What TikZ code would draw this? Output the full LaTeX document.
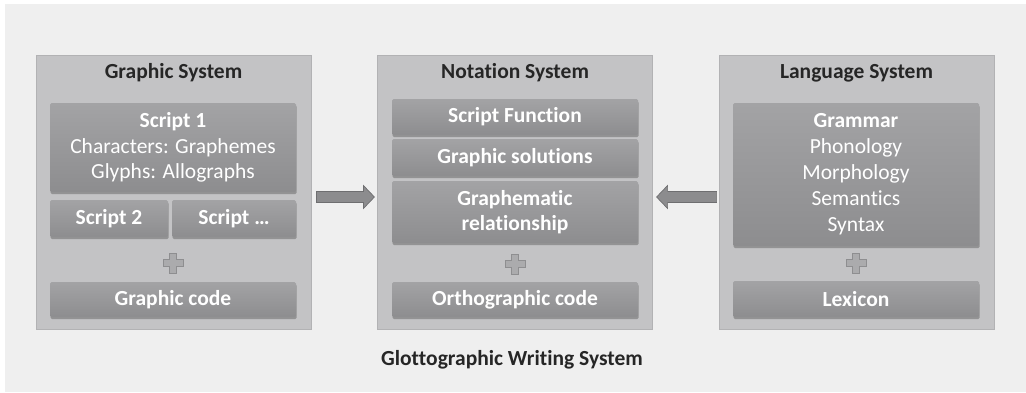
\documentclass[tikz,border=0pt]{standalone}
\usepackage{fontspec}
\setmainfont[Ligatures={NoCommon}]{Carlito}
\usetikzlibrary{shadows,calc}
\definecolor{bgc}{HTML}{EFEFEF}
\definecolor{panelc}{HTML}{C3C3C5}
\definecolor{panelb}{HTML}{B2B2B4}
\definecolor{boxtop}{HTML}{A3A3A5}
\definecolor{boxbot}{HTML}{8D8D8F}
\definecolor{titlec}{HTML}{262626}
\definecolor{plusf}{HTML}{ABABAD}
\definecolor{pluss}{HTML}{8E8E90}
\definecolor{arrf}{HTML}{8C8C8E}
\definecolor{arrs}{HTML}{6E6E70}
\tikzset{
  panel/.style={draw=panelb, fill=panelc, line width=0.8pt, minimum width=275pt, minimum height=274pt, inner sep=0pt},
  title/.style={font=\fontsize{21.5}{25}\selectfont\bfseries, text=titlec, inner sep=0pt},
  inbox/.style={top color=boxtop, bottom color=boxbot, draw=none, rounded corners=1.5pt,
     text=white, align=center, inner sep=0pt, minimum width=246pt,
     font=\fontsize{21.5}{25.5}\selectfont,
     drop shadow={shadow xshift=0.6pt, shadow yshift=-2.2pt, opacity=0.4, fill=black!70}},
  boldbox/.style={inbox, font=\fontsize{21.5}{25}\selectfont\bfseries},
  plussign/.style={fill=plusf, draw=pluss, line width=0.7pt},
  blockarrow/.style={fill=arrf, draw=arrs, line width=0.7pt},
  bottomtitle/.style={font=\fontsize{21.5}{25}\selectfont\bfseries, text=titlec, inner sep=0pt}
}
\newcommand{\plusat}[2]{%
  \draw[plussign] (#1-10,#2-3.5) -- (#1-3.5,#2-3.5) -- (#1-3.5,#2-10) -- (#1+3.5,#2-10) -- (#1+3.5,#2-3.5)
   -- (#1+10,#2-3.5) -- (#1+10,#2+3.5) -- (#1+3.5,#2+3.5) -- (#1+3.5,#2+10) -- (#1-3.5,#2+10)
   -- (#1-3.5,#2+3.5) -- (#1-10,#2+3.5) -- cycle;}
\begin{document}
\begin{tikzpicture}[x=1pt,y=-1pt]
\fill[white] (0,0) rectangle (1026,392);
\fill[bgc] (5,4) rectangle (1026,392);
\useasboundingbox (0,0) rectangle (1026,392);

% panels
\node[panel] (p1) at (173.5,192) {};
\node[panel] (p2) at (515,192) {};
\node[panel] (p3) at (856.5,192) {};

\node[title] (t1) at (173.5,73) {Graphic System};
\node[title] (t2) at (515,73) {Notation System};
\node[title] (t3) at (856.5,73) {Language System};

% panel 1
\node[inbox, minimum height=89pt] (s1) at (173,147.5) {\textbf{Script 1}\\Characters: Graphemes\\Glyphs: Allographs};
\node[boldbox, minimum height=37pt, minimum width=118pt] (s2) at (109,218.5) {Script 2};
\node[boldbox, minimum height=37pt, minimum width=124pt] (s3) at (234,218.5) {Script \dots};
\node[boldbox, minimum height=35pt] (gc) at (173,299.5) {Graphic code};
\plusat{173}{263}

% panel 2
\node[boldbox, minimum height=36pt] (sf) at (515,117) {Script Function};
\node[boldbox, minimum height=37pt] (gs) at (515,157.5) {Graphic solutions};
\node[boldbox, minimum height=62pt, font=\fontsize{21.5}{25.5}\selectfont\bfseries] (gr) at (515,212) {Graphematic\\relationship};
\node[boldbox, minimum height=35pt] (oc) at (515,299.5) {Orthographic code};
\plusat{515}{264}

% panel 3
\node[inbox, minimum height=143pt, font=\fontsize{21.5}{26}\selectfont] (gm) at (856,174.5) {\textbf{Grammar}\\Phonology\\Morphology\\Semantics\\Syntax};
\node[boldbox, minimum height=36pt] (lx) at (856,299) {Lexicon};
\plusat{856}{263}

% block arrows
\coordinate (a1) at ($(p1.east)+(5,5)$);
\draw[blockarrow] (a1) ++(0,-5.5) -- ++(47,0) -- ++(0,-6) -- ++(11,11.5) -- ++(-11,11.5) -- ++(0,-6) -- ++(-47,0) -- cycle;
\coordinate (a2) at ($(p3.west)+(-2,5)$);
\draw[blockarrow] (a2) ++(0,-5.5) -- ++(-49,0) -- ++(0,-6) -- ++(-11,11.5) -- ++(11,11.5) -- ++(0,-6) -- ++(49,0) -- cycle;

\node[bottomtitle] (bt) at (512,360) {Glottographic Writing System};
\end{tikzpicture}
\end{document}
